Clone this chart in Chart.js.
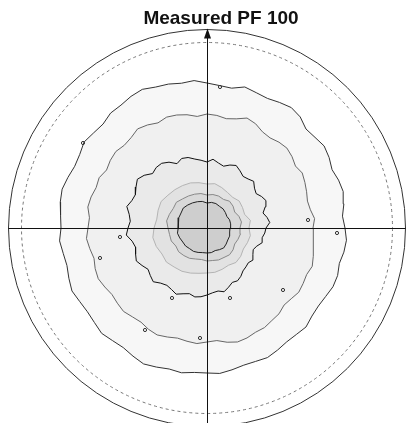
<!DOCTYPE html>
<html>
<head>
<meta charset="utf-8">
<script src="https://cdn.jsdelivr.net/npm/chart.js@4"></script>
<style>
  html, body { margin: 0; padding: 0; background: #fff; }
  #wrap { width: 406px; height: 423px; }
</style>
</head>
<body>
<div id="wrap"><canvas id="pf"></canvas></div>
<script>
// DATA - pole figure contours, radius (px units of the projection) at each angle
const TITLE = "Measured PF 100";

// angles in degrees, 0 = right, counter clockwise
const ANGLES_5 = [0, 5, 10, 15, 20, 25, 30, 35, 40, 45, 50, 55, 60, 65, 70, 75, 80, 85,
  90, 95, 100, 105, 110, 115, 120, 125, 130, 135, 140, 145, 150, 155, 160, 165, 170, 175,
  180, 185, 190, 195, 200, 205, 210, 215, 220, 225, 230, 235, 240, 245, 250, 255, 260, 265,
  270, 275, 280, 285, 290, 295, 300, 305, 310, 315, 320, 325, 330, 335, 340, 345, 350, 355];
const ANGLES_10 = [0, 10, 20, 30, 40, 50, 60, 70, 80, 90, 100, 110, 120, 130, 140, 150, 160, 170,
  180, 190, 200, 210, 220, 230, 240, 250, 260, 270, 280, 290, 300, 310, 320, 330, 340, 350];

// outermost level
const LEVEL_1 = [138, 136, 139, 141, 140, 138, 141, 143, 141, 140, 145, 147, 145, 143, 144, 146, 142, 143,
  145, 148, 147, 149, 150, 153, 152, 150, 150, 147, 148, 150, 147, 146, 148, 150, 149, 147,
  146, 148, 146, 145, 147, 149, 147, 146, 147, 149, 147, 146, 148, 150, 148, 146, 147, 145,
  145, 146, 144, 142, 142, 143, 141, 139, 139, 140, 137, 136, 137, 139, 139, 137, 139, 140];
const LEVEL_2 = [106, 108, 105, 104, 106, 108, 110, 108, 111, 113, 112, 110, 111, 115, 117, 113, 111, 113,
  114, 112, 115, 117, 118, 116, 119, 121, 118, 117, 119, 118, 116, 119, 118, 120, 121, 118,
  119, 121, 119, 117, 119, 120, 118, 116, 117, 118, 116, 115, 117, 118, 116, 114, 115, 116,
  114, 113, 116, 118, 117, 115, 115, 113, 112, 109, 110, 112, 111, 110, 112, 110, 108, 107];
const LEVEL_3 = [59, 63, 61, 58, 62, 65, 63, 60, 62, 66, 64, 63, 66, 69, 67, 64, 66, 69,
  66, 68, 70, 73, 74, 71, 76, 79, 79, 77, 82, 85, 82, 79, 80, 83, 79, 77,
  79, 81, 76, 74, 76, 78, 75, 72, 74, 76, 72, 70, 71, 73, 70, 68, 70, 69,
  67, 65, 64, 66, 63, 60, 61, 59, 56, 55, 54, 56, 53, 51, 53, 57, 56, 58];
const LEVEL_4 = [42, 44, 40, 41, 42, 40, 41, 43, 45, 44, 46, 48, 49, 50, 51, 53, 52, 51,
  53, 55, 54, 52, 53, 51, 50, 48, 46, 45, 45, 44, 43, 45, 44, 42, 43, 44];
const LEVEL_5 = [33, 35, 34, 32, 34, 35, 33, 34, 34, 33, 35, 36, 37, 38, 40, 39, 40, 41,
  39, 38, 38, 36, 37, 36, 35, 33, 32, 33, 33, 34, 34, 35, 34, 32, 33, 34];
const LEVEL_6 = [23, 24, 24, 23, 24, 25, 25, 26, 26, 25, 27, 28, 29, 30, 31, 30, 30, 29,
  29, 30, 29, 28, 28, 27, 27, 26, 25, 25, 25, 24, 25, 26, 25, 24, 24, 23];

// small isolated islands of the noisy levels
const ISLAND_X = [-124, -87, -107, 130, -35, 23, 76, -62, -7, 13, 101];
const ISLAND_Y = [85, -9, -30, -5, -70, -70, -62, -102, -110, 141, 8];

// projection frame
const OUTER_R = 198.5;
const DASHED_R = 185.5;

// polar -> xy, closed loop
function toLoop(angles, radii) {
  const pts = angles.map((a, i) => ({
    x: radii[i] * Math.cos(a * Math.PI / 180),
    y: radii[i] * Math.sin(a * Math.PI / 180),
  }));
  pts.push(pts[0]);
  return pts;
}

function level(angles, radii, line, fillColor) {
  return {
    data: toLoop(angles, radii),
    showLine: true,
    borderColor: line,
    borderWidth: 1,
    backgroundColor: fillColor,
    fill: "shape",
    pointRadius: 0,
    tension: 0,
  };
}

// frame: circles, cross, arrow, title
const framePlugin = {
  id: "frame",
  afterDatasetsDraw(chart) {
    const { ctx, scales } = chart;
    const cx = scales.x.getPixelForValue(0);
    const cy = scales.y.getPixelForValue(0);
    const k = scales.x.getPixelForValue(1) - cx;
    ctx.save();
    // outer circle
    ctx.strokeStyle = "#333";
    ctx.lineWidth = 1;
    ctx.beginPath();
    ctx.arc(cx, cy, OUTER_R * k, 0, Math.PI * 2);
    ctx.stroke();
    // dashed circle
    ctx.strokeStyle = "#777";
    ctx.setLineDash([3, 3]);
    ctx.beginPath();
    ctx.arc(cx, cy, DASHED_R * k, 0, Math.PI * 2);
    ctx.stroke();
    ctx.setLineDash([]);
    // cross
    ctx.strokeStyle = "#111";
    ctx.beginPath();
    ctx.moveTo(cx - OUTER_R * k, cy + 0.5);
    ctx.lineTo(cx + OUTER_R * k, cy + 0.5);
    ctx.moveTo(cx + 0.5, cy - OUTER_R * k);
    ctx.lineTo(cx + 0.5, chart.height);
    ctx.stroke();
    // arrow
    ctx.fillStyle = "#111";
    ctx.beginPath();
    ctx.moveTo(cx + 0.5, cy - OUTER_R * k - 1);
    ctx.lineTo(cx - 3, cy - OUTER_R * k + 9);
    ctx.lineTo(cx + 4, cy - OUTER_R * k + 9);
    ctx.closePath();
    ctx.fill();
    // title
    ctx.font = "bold 19px 'Liberation Sans', Arial, sans-serif";
    ctx.textAlign = "center";
    ctx.textBaseline = "alphabetic";
    ctx.fillText(TITLE, cx + 14, 24);
    ctx.restore();
  },
};

const ctx = document.getElementById("pf");
const myChart = new Chart(ctx, {
  type: "scatter",
  data: {
    datasets: [
      {
        data: ISLAND_X.map((x, i) => ({ x: x, y: ISLAND_Y[i] })),
        pointRadius: 1.6,
        pointBorderWidth: 1,
        pointBorderColor: "#333",
        pointBackgroundColor: "rgba(0,0,0,0)",
        showLine: false,
      },
      level(ANGLES_10, LEVEL_6, "#222", "#cecece"),
      level(ANGLES_10, LEVEL_5, "#888", "#d9d9d9"),
      level(ANGLES_10, LEVEL_4, "#b4b4b4", "#e2e2e2"),
      level(ANGLES_5, LEVEL_3, "#111", "#eaeaea"),
      level(ANGLES_5, LEVEL_2, "#666", "#f0f0f0"),
      level(ANGLES_5, LEVEL_1, "#333", "#f7f7f7"),
    ],
  },
  options: {
    responsive: true,
    maintainAspectRatio: false,
    animation: false,
    layout: { padding: 0, autoPadding: false }, // keep chart area = whole canvas
    scales: {
      x: { type: "linear", display: false, min: -207, max: 199 },
      y: { type: "linear", display: false, min: -195, max: 228 },
    },
    plugins: {
      legend: { display: false },
      tooltip: { enabled: false },
    },
  },
  plugins: [framePlugin],
});
</script>
</body>
</html>
